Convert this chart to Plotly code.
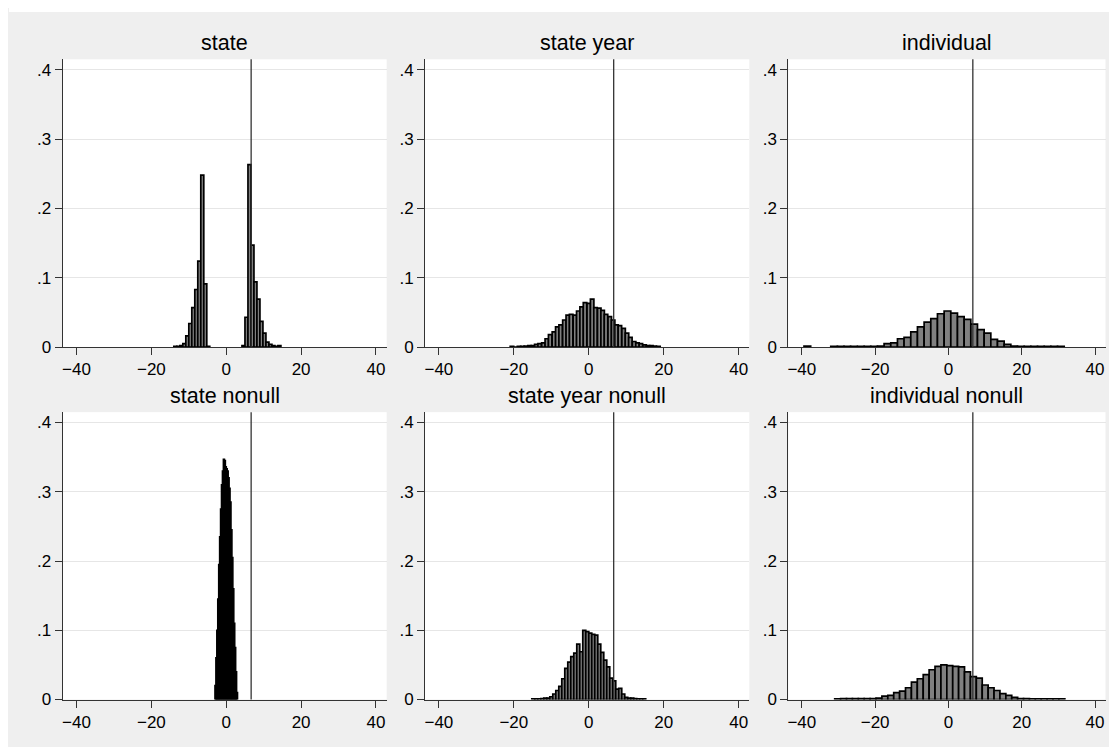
import plotly.graph_objects as go

# ---------------- data ----------------
panel_titles = ["state", "state year", "individual",
                "state nonull", "state year nonull", "individual nonull"]

vline_value = 6.65

# state
state_width = 0.8
state_x = [-13.6, -12.8, -12.0, -11.2, -10.4, -9.6, -8.8, -8.0, -7.2, -6.4, -5.6, -4.8,
           4.6, 5.4, 6.2, 7.0, 7.8, 8.6, 9.4, 10.2, 11.0, 11.8, 12.6, 13.4, 14.2]
state_y = [0.001, 0.001, 0.002, 0.005, 0.016, 0.034, 0.057, 0.083, 0.124, 0.248, 0.091, 0.001,
           0.002, 0.043, 0.263, 0.147, 0.094, 0.069, 0.037, 0.020, 0.007, 0.004, 0.002, 0.001, 0.002]

# state year
sy_width = 0.93
sy_x = [-20.5, -19.6, -18.6, -17.7, -16.8, -15.8, -14.9, -14.0, -13.1, -12.1, -11.2,
        -10.3, -9.3, -8.4, -7.5, -6.5, -5.6, -4.7, -3.7, -2.8, -1.9, -1.0, 0.0, 0.9,
        1.8, 2.8, 3.7, 4.6, 5.6, 6.5, 7.4, 8.3, 9.3, 10.2, 11.1, 12.1, 13.0, 13.9,
        14.9, 15.8, 16.7, 17.6, 18.6]
sy_y = [0.001, 0.0, 0.001, 0.001, 0.0015, 0.002, 0.002, 0.004, 0.005, 0.006, 0.012,
        0.018, 0.022, 0.029, 0.032, 0.039, 0.046, 0.047, 0.046, 0.052, 0.058, 0.064, 0.063, 0.069,
        0.057, 0.056, 0.053, 0.047, 0.044, 0.039, 0.032, 0.031, 0.027, 0.020, 0.014, 0.008, 0.006, 0.005,
        0.003, 0.002, 0.002, 0.0015, 0.001]

# individual
ind_width = 1.82
ind_x = [-38.5, -31.2, -29.4, -27.6, -25.8, -23.9, -22.1, -20.3,
         -18.47, -16.65, -14.83, -13.0, -11.2, -9.37, -7.55, -5.73, -3.91, -2.09, -0.27,
         1.55, 3.37, 5.19, 7.01, 8.83, 10.65, 12.47, 14.29, 16.11, 17.93,
         19.75, 21.57, 23.39, 25.21, 27.03, 28.85, 30.67]
ind_y = [0.0015, 0.001, 0.001, 0.001, 0.001, 0.001, 0.001, 0.001,
         0.0015, 0.005, 0.006, 0.012, 0.014, 0.022, 0.029, 0.036, 0.041, 0.048, 0.052,
         0.049, 0.044, 0.040, 0.033, 0.025, 0.020, 0.011, 0.0085, 0.004, 0.0015,
         0.001, 0.001, 0.001, 0.001, 0.001, 0.001, 0.001]

# state nonull
sn_width = 0.25
sn_x = [-2.875, -2.625, -2.375, -2.125, -1.875, -1.625, -1.375, -1.125, -0.875, -0.625,
        -0.375, -0.125, 0.125, 0.375, 0.625, 0.875, 1.125, 1.375, 1.625, 1.875,
        2.125, 2.375, 2.625, 2.875]
sn_y = [0.02, 0.06, 0.10, 0.145, 0.195, 0.235, 0.275, 0.31, 0.33, 0.347,
        0.345, 0.336, 0.333, 0.33, 0.32, 0.305, 0.285, 0.245, 0.205, 0.16,
        0.11, 0.075, 0.04, 0.01]

# state year nonull
syn_width = 0.8
syn_x = [-14.8, -14.0, -13.2, -12.4, -11.6, -10.8, -10.0, -9.2, -8.4, -7.6, -6.8, -6.0,
         -5.2, -4.4, -3.6, -2.8, -2.0, -1.2, -0.4, 0.4, 1.2, 2.0, 2.8, 3.6, 4.4, 5.2,
         6.0, 6.8, 7.6, 8.4, 9.2, 10.0, 10.8, 11.6, 12.4, 13.2, 14.0, 14.8]
syn_y = [0.001, 0.001, 0.001, 0.0015, 0.002, 0.002, 0.004, 0.008, 0.013, 0.019, 0.030, 0.045,
         0.054, 0.062, 0.067, 0.080, 0.069, 0.100, 0.098, 0.096, 0.094, 0.093, 0.080, 0.068, 0.057, 0.047,
         0.031, 0.027, 0.015, 0.016, 0.008, 0.003, 0.002, 0.002, 0.0015, 0.001, 0.001, 0.001]

# individual nonull
inn_width = 1.61
inn_x = [-30.23, -28.62, -27.01, -25.4, -23.79, -22.18, -20.57,
         -18.96, -17.35, -15.74, -14.13, -12.52, -10.91, -9.3, -7.69, -6.08, -4.47, -2.86, -1.25,
         0.36, 1.97, 3.58, 5.19, 6.8, 8.41, 10.02, 11.63, 13.24, 14.85, 16.46, 18.07,
         19.68, 21.29, 22.9, 24.51, 26.12, 27.73, 29.34, 30.95]
inn_y = [0.001, 0.0015, 0.0015, 0.0015, 0.0015, 0.0015, 0.0015,
         0.002, 0.005, 0.006, 0.010, 0.012, 0.017, 0.025, 0.030, 0.036, 0.043, 0.048, 0.050,
         0.049, 0.048, 0.047, 0.040, 0.033, 0.031, 0.021, 0.017, 0.013, 0.0085, 0.006, 0.003,
         0.0015, 0.0015, 0.001, 0.001, 0.001, 0.001, 0.001, 0.001]

x_ticks = [-40, -20, 0, 20, 40]
x_tick_text = ["\u221240", "\u221220", "0", "20", "40"]
y_ticks = [0, 0.1, 0.2, 0.3, 0.4]
y_tick_text = ["0", ".1", ".2", ".3", ".4"]
x_range = [-43.7, 42.85]
y_range = [0, 0.415]

panels = [
    (state_x, state_y, state_width),
    (sy_x, sy_y, sy_width),
    (ind_x, ind_y, ind_width),
    (sn_x, sn_y, sn_width),
    (syn_x, syn_y, syn_width),
    (inn_x, inn_y, inn_width),
]

# ---------------- layout geometry ----------------
# The page body has an 8px margin; the figure sits at (8, 8) in the window and is
# sized so that the whole page fits inside the window (no scrollbars).
OFF = 8
W, H = 1117 - 2 * OFF, 755 - 2 * OFF
col_px = [(61.7, 386.0), (424.4, 749.0), (788.0, 1105.5)]
row_px = [(60.0, 351.7), (417.7, 709.0)]
title_y_px = [43.0, 401.0]

FONT = "Liberation Sans, Arial, Helvetica, sans-serif"
BAR_FILL = "#808080"
AXIS_COLOR = "#333333"
GRID_COLOR = "#e6e6e6"
BG_GRAY = "#efefef"


def px_x(v):
    return (v - OFF) / W


def px_y(v):
    return 1 - (v - OFF) / H


fig = go.Figure()
layout = dict(
    width=W, height=H,
    margin=dict(l=0, r=0, t=0, b=0),
    paper_bgcolor=BG_GRAY,
    plot_bgcolor="white",
    showlegend=False,
    font=dict(family=FONT, color="black"),
    shapes=[],
    annotations=[],
)

# thin white strip along the top of the page (outside the gray graph region)
layout["shapes"].append(dict(
    type="rect", xref="paper", yref="paper",
    x0=0, x1=1, y0=px_y(12), y1=1,
    fillcolor="white", line=dict(width=0), layer="below"))

for i, (xs, ys, w) in enumerate(panels):
    r, c = divmod(i, 3)
    n = i + 1
    xa = "x" if n == 1 else f"x{n}"
    ya = "y" if n == 1 else f"y{n}"
    fig.add_trace(go.Bar(
        x=xs, y=ys, width=[w] * len(xs),
        marker=dict(color=BAR_FILL, line=dict(color="black", width=1.7)),
        xaxis=xa, yaxis=ya, hoverinfo="x+y"))
    x0, x1 = col_px[c]
    y0, y1 = row_px[r]
    xkey = "xaxis" if n == 1 else f"xaxis{n}"
    ykey = "yaxis" if n == 1 else f"yaxis{n}"
    layout[xkey] = dict(
        domain=[px_x(x0), px_x(x1)], anchor=ya, range=x_range,
        tickvals=x_ticks, ticktext=x_tick_text,
        showgrid=False, zeroline=False,
        showline=True, linecolor=AXIS_COLOR, linewidth=1,
        ticks="outside", ticklen=7, tickcolor=AXIS_COLOR, tickwidth=1,
        tickfont=dict(size=17, family=FONT, color="black"),
        ticklabeloverflow="allow",
        fixedrange=True)
    layout[ykey] = dict(
        domain=[px_y(y1), px_y(y0)], anchor=xa, range=y_range,
        tickvals=y_ticks, ticktext=y_tick_text,
        showgrid=True, gridcolor=GRID_COLOR, gridwidth=1.2,
        zeroline=False,
        showline=True, linecolor=AXIS_COLOR, linewidth=1,
        ticks="outside", ticklen=7, tickcolor=AXIS_COLOR, tickwidth=1,
        tickfont=dict(size=17, family=FONT, color="black"),
        fixedrange=True)
    # vertical reference line
    layout["shapes"].append(dict(
        type="line", xref=xa, yref=f"{ya} domain",
        x0=vline_value, x1=vline_value, y0=0, y1=1,
        line=dict(color=AXIS_COLOR, width=1.3)))
    # panel title
    layout["annotations"].append(dict(
        text=panel_titles[i], xref="paper", yref="paper",
        x=px_x((x0 + x1) / 2), y=px_y(title_y_px[r]),
        xanchor="center", yanchor="middle", showarrow=False,
        font=dict(size=21.5, family=FONT, color="black")))

fig.update_layout(**layout)
fig.write_html("out.html")
